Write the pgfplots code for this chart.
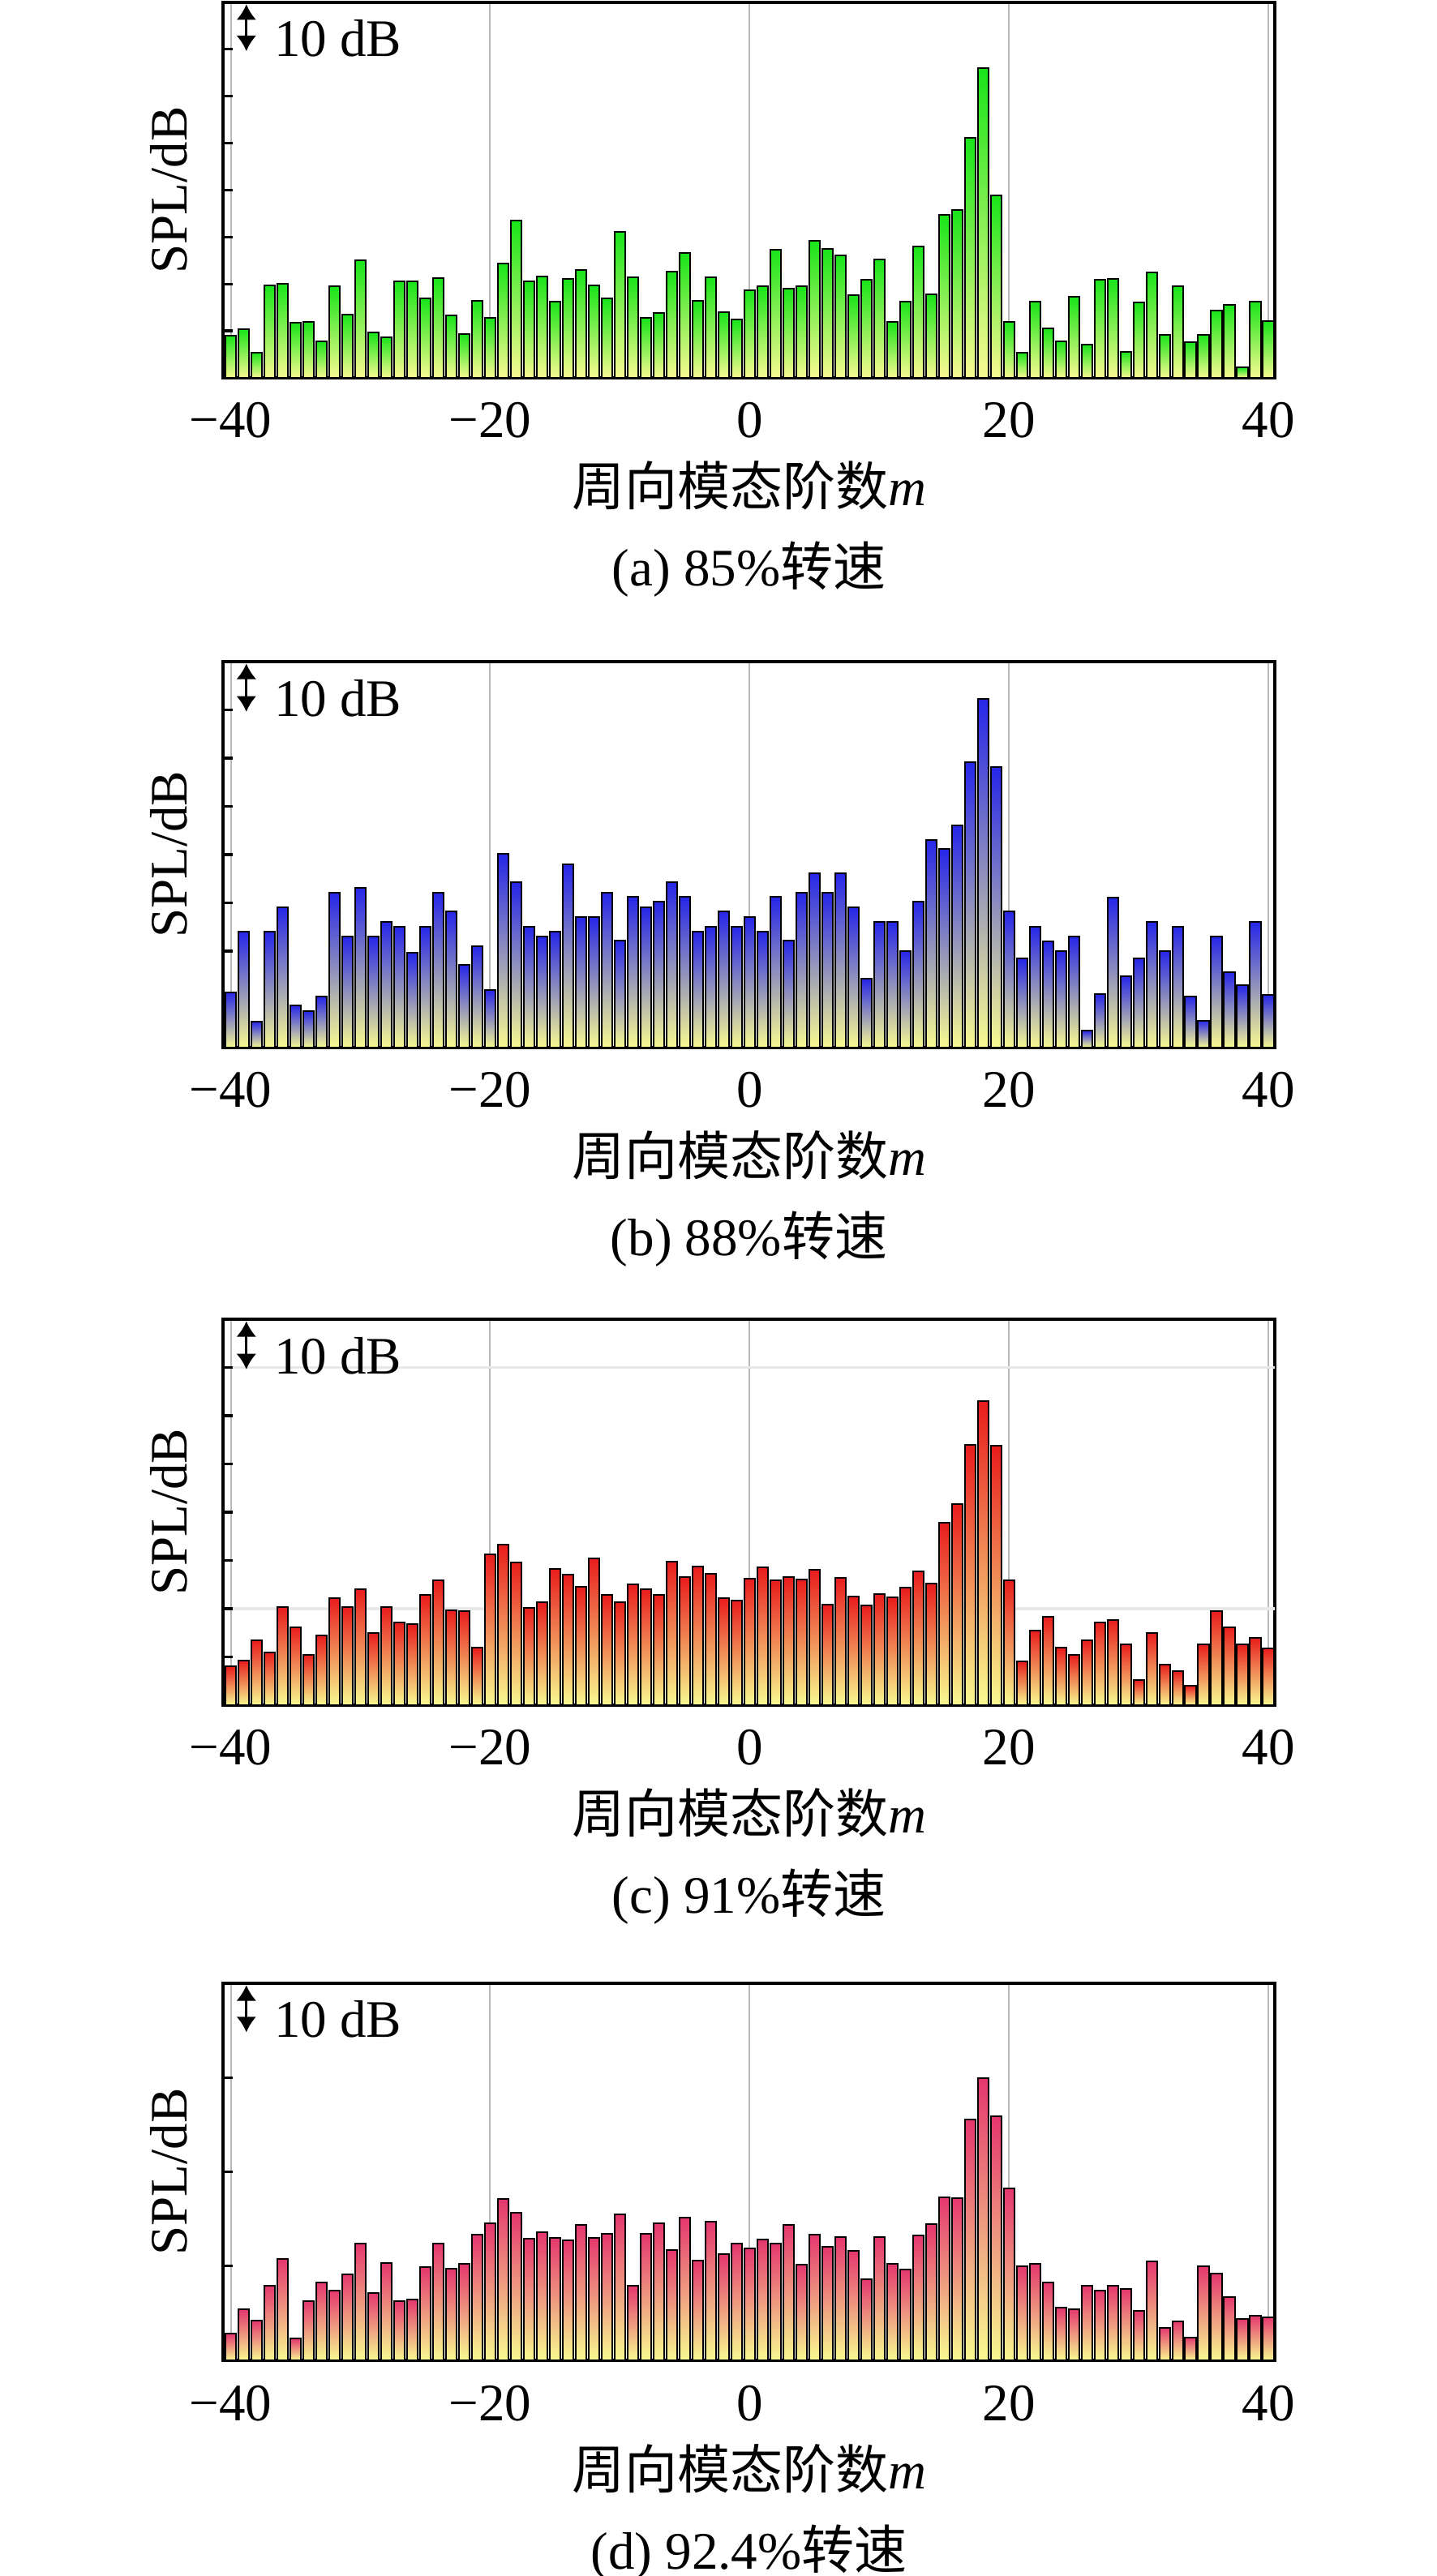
\documentclass[border=0pt]{standalone}
\usepackage{fontspec}
\setmainfont{Liberation Serif}
\newfontfamily\cjk{Noto Sans CJK SC}
\usepackage{pgfplots}
\usepackage{pgfplotstable}
\pgfplotsset{compat=1.18}
\usetikzlibrary{arrows.meta}
\newcommand\fs{\fontsize{16.25}{19.5}\selectfont}
\definecolor{gtop}{RGB}{25,228,25}
\definecolor{btop}{RGB}{38,38,232}
\definecolor{rtop}{RGB}{232,28,28}
\definecolor{rmid}{RGB}{250,140,40}
\definecolor{ptop}{RGB}{228,55,110}
\definecolor{ybot}{RGB}{248,250,145}

\pgfplotstableread[row sep=\\]{
m v\\ -40 9.0\\ -39 10.4\\ -38 5.4\\ -37 19.7\\ -36 20.1\\ -35 11.7\\ -34 11.9\\ -33 7.7\\ -32 19.5\\ -31 13.5\\
-30 25.0\\ -29 9.6\\ -28 8.7\\ -27 20.5\\ -26 20.5\\ -25 16.9\\ -24 21.2\\ -23 13.3\\ -22 9.3\\ -21 16.4\\
-20 12.8\\ -19 24.3\\ -18 33.5\\ -17 20.5\\ -16 21.6\\ -15 16.3\\ -14 21.0\\ -13 23.0\\ -12 19.7\\ -11 16.9\\
-10 31.1\\ -9 21.5\\ -8 12.7\\ -7 13.9\\ -6 22.6\\ -5 26.6\\ -4 16.4\\ -3 21.4\\ -2 14.0\\ -1 12.4\\
0 18.7\\ 1 19.5\\ 2 27.3\\ 3 19.0\\ 4 19.5\\ 5 29.2\\ 6 27.4\\ 7 26.1\\ 8 17.7\\ 9 20.9\\
10 25.2\\ 11 11.9\\ 12 16.3\\ 13 28.0\\ 14 17.8\\ 15 34.7\\ 16 35.8\\ 17 51.1\\ 18 66.0\\ 19 38.8\\
20 12.0\\ 21 5.4\\ 22 16.2\\ 23 10.5\\ 24 7.7\\ 25 17.2\\ 26 7.0\\ 27 20.9\\ 28 21.1\\ 29 5.6\\
30 16.0\\ 31 22.5\\ 32 9.1\\ 33 19.5\\ 34 7.6\\ 35 9.1\\ 36 14.4\\ 37 15.6\\ 38 2.2\\ 39 16.3\\ 40 12.1\\
}\tabA
\pgfplotstableread[row sep=\\]{
m v\\ -40 11.5\\ -39 24.0\\ -38 5.4\\ -37 24.0\\ -36 29.1\\ -35 8.7\\ -34 7.5\\ -33 10.5\\ -32 32.1\\ -31 23.0\\
-30 33.1\\ -29 23.0\\ -28 26.1\\ -27 25.1\\ -26 19.6\\ -25 25.1\\ -24 32.1\\ -23 28.2\\ -22 17.1\\ -21 21.0\\
-20 11.9\\ -19 40.1\\ -18 34.2\\ -17 25.1\\ -16 23.0\\ -15 24.0\\ -14 38.0\\ -13 27.1\\ -12 27.1\\ -11 32.1\\
-10 22.2\\ -9 31.2\\ -8 29.1\\ -7 30.2\\ -6 34.2\\ -5 31.2\\ -4 24.0\\ -3 25.1\\ -2 28.2\\ -1 25.1\\
0 27.1\\ 1 24.0\\ 2 31.2\\ 3 22.2\\ 4 32.1\\ 5 36.2\\ 6 32.1\\ 7 36.2\\ 8 29.1\\ 9 14.2\\
10 26.1\\ 11 26.1\\ 12 20.0\\ 13 30.2\\ 14 43.1\\ 15 41.1\\ 16 46.1\\ 17 59.2\\ 18 72.2\\ 19 58.2\\
20 28.2\\ 21 18.4\\ 22 25.1\\ 23 22.0\\ 24 20.0\\ 25 23.0\\ 26 3.5\\ 27 11.1\\ 28 31.1\\ 29 14.8\\
30 18.4\\ 31 26.1\\ 32 20.0\\ 33 25.1\\ 34 10.5\\ 35 5.6\\ 36 23.0\\ 37 15.7\\ 38 12.9\\ 39 26.1\\ 40 10.9\\
}\tabB
\pgfplotstableread[row sep=\\]{
m v\\ -40 8.0\\ -39 9.2\\ -38 13.4\\ -37 11.0\\ -36 20.3\\ -35 16.2\\ -34 10.5\\ -33 14.4\\ -32 22.1\\ -31 20.3\\
-30 24.0\\ -29 14.9\\ -28 20.3\\ -27 17.1\\ -26 16.8\\ -25 22.8\\ -24 25.8\\ -23 19.7\\ -22 19.5\\ -21 11.9\\
-20 31.2\\ -19 33.2\\ -18 29.6\\ -17 20.2\\ -16 21.3\\ -15 28.3\\ -14 27.0\\ -13 24.6\\ -12 30.5\\ -11 22.8\\
-10 21.4\\ -9 25.0\\ -8 24.1\\ -7 22.8\\ -6 29.7\\ -5 26.5\\ -4 28.8\\ -3 27.3\\ -2 22.2\\ -1 21.6\\
0 26.3\\ 1 28.6\\ 2 25.8\\ 3 26.6\\ 4 26.1\\ 5 28.0\\ 6 20.9\\ 7 26.4\\ 8 22.5\\ 9 20.7\\
10 23.0\\ 11 22.4\\ 12 24.4\\ 13 27.8\\ 14 25.2\\ 15 37.8\\ 16 41.7\\ 17 53.9\\ 18 63.0\\ 19 53.8\\
20 25.9\\ 21 9.0\\ 22 15.5\\ 23 18.4\\ 24 11.9\\ 25 10.4\\ 26 13.5\\ 27 17.2\\ 28 17.7\\ 29 12.6\\
30 5.2\\ 31 15.0\\ 32 8.4\\ 33 7.0\\ 34 4.0\\ 35 12.6\\ 36 19.5\\ 37 16.2\\ 38 12.6\\ 39 14.0\\ 40 11.8\\
}\tabC
\pgfplotstableread[row sep=\\]{
m v\\ -40 5.6\\ -39 10.8\\ -38 8.4\\ -37 15.8\\ -36 21.5\\ -35 4.6\\ -34 12.5\\ -33 16.6\\ -32 14.8\\ -31 18.3\\
-30 24.8\\ -29 14.3\\ -28 20.6\\ -27 12.5\\ -26 12.9\\ -25 19.7\\ -24 24.8\\ -23 19.4\\ -22 20.5\\ -21 26.6\\
-20 29.0\\ -19 34.3\\ -18 31.3\\ -17 25.8\\ -16 27.1\\ -15 26.0\\ -14 25.4\\ -13 28.7\\ -12 26.0\\ -11 26.8\\
-10 30.9\\ -9 15.8\\ -8 26.8\\ -7 29.0\\ -6 23.4\\ -5 30.3\\ -4 21.1\\ -3 29.4\\ -2 22.5\\ -1 24.8\\
0 23.8\\ 1 25.7\\ 2 24.8\\ 3 28.8\\ 4 20.3\\ 5 26.7\\ 6 24.1\\ 7 26.2\\ 8 23.3\\ 9 17.2\\
10 26.1\\ 11 20.4\\ 12 19.2\\ 13 26.5\\ 14 28.9\\ 15 34.5\\ 16 34.4\\ 17 51.1\\ 18 59.8\\ 19 51.7\\
20 36.4\\ 21 19.9\\ 22 20.5\\ 23 16.6\\ 24 11.2\\ 25 10.9\\ 26 15.8\\ 27 14.8\\ 28 15.8\\ 29 15.2\\
30 10.5\\ 31 21.0\\ 32 6.9\\ 33 8.2\\ 34 4.9\\ 35 19.9\\ 36 18.4\\ 37 13.5\\ 38 8.8\\ 39 9.5\\ 40 9.2\\
}\tabD

\pgfplotsset{
  spl/.style={
    scale only axis, width=324.25pt, anchor=south west,
    xmin=-40.6, xmax=40.5, ymin=0, ymax=80,
    xtick={-40,-20,0,20,40}, xticklabels={−40,−20,0,20,40},
    minor xtick={-30,-10,10,30},
    yticklabels={},
    tick pos=left, tick align=inside,
    major tick length=3pt, minor tick length=1.6pt,
    every tick/.style={black, line width=0.8pt},
    every minor tick/.style={black, line width=0.8pt},
    xmajorgrids, major grid style={draw=gray!55, line width=0.5pt},
    axis line style={line width=0.8pt},
    xticklabel style={font=\fs, anchor=base, yshift=-18.5pt},
    clip=false,
  },
}
% one bar per \addplot, so that each bar gets its own vertical gradient
\newcommand\bars[2]{%
  \pgfplotsinvokeforeach{-40,...,40}{%
    \addplot[ybar, bar width=0.82, bar shift=0pt, draw=black, line width=0.5pt, #2,
      x filter/.expression={abs(x-(##1))<0.3 ? x : nan}] table[x=m, y=v] {#1};
  }%
}
\newcommand\decor[1]{%
  \draw[{Latex[width=6.2pt,length=4.8pt]}-{Latex[width=6.2pt,length=4.8pt]}, line width=0.8pt] (axis cs:-38.8,79.6) -- (axis cs:-38.8,69.6);
  \node[anchor=west, inner sep=0pt, font=\fs] at (axis cs:-36.7,72.4) {10 dB};
  \node[xshift=-11.25pt, rotate=90, anchor=base, font=\fs] at (rel axis cs:0,0.5) {SPL/dB};
  \node[anchor=base, font=\fs] at ([yshift=-39.5pt]rel axis cs:0.5,0) {{\cjk 周向模态阶数}\textit{m}};
  \node[anchor=base, font=\fs] at ([yshift=-64.25pt]rel axis cs:0.5,0) {#1};
}
\begin{document}
\begin{tikzpicture}
\path[use as bounding box] (0,0) rectangle (443pt,794.25pt);
% (a)
\begin{axis}[spl, at={(68.75pt,677.75pt)}, height=115.75pt, ytick={10,20,...,70}]
\bars{\tabA}{top color=gtop, bottom color=ybot}
\decor{(a) 85\%{\cjk 转速}}
\end{axis}
% (b)
\begin{axis}[spl, at={(68.75pt,471.25pt)}, height=119pt, ytick={10,20,...,70}]
\bars{\tabB}{top color=btop, bottom color=ybot}
\decor{(b) 88\%{\cjk 转速}}
\end{axis}
% (c)
\begin{axis}[spl, at={(68.75pt,268.5pt)}, height=119pt, ytick={10,20,...,70},
  extra y ticks={20,70}, extra y tick labels={},
  extra y tick style={ymajorgrids=true, major grid style={draw=gray!18, line width=0.9pt}}]
\bars{\tabC}{top color=rtop, middle color=rmid, bottom color=ybot}
\decor{(c) 91\%{\cjk 转速}}
\end{axis}
% (d)
\begin{axis}[spl, at={(68.75pt,66.5pt)}, height=116.25pt, ytick={20,40,60}]
\bars{\tabD}{top color=ptop, bottom color=ybot}
\decor{(d) 92.4\%{\cjk 转速}}
\end{axis}
\end{tikzpicture}
\end{document}
